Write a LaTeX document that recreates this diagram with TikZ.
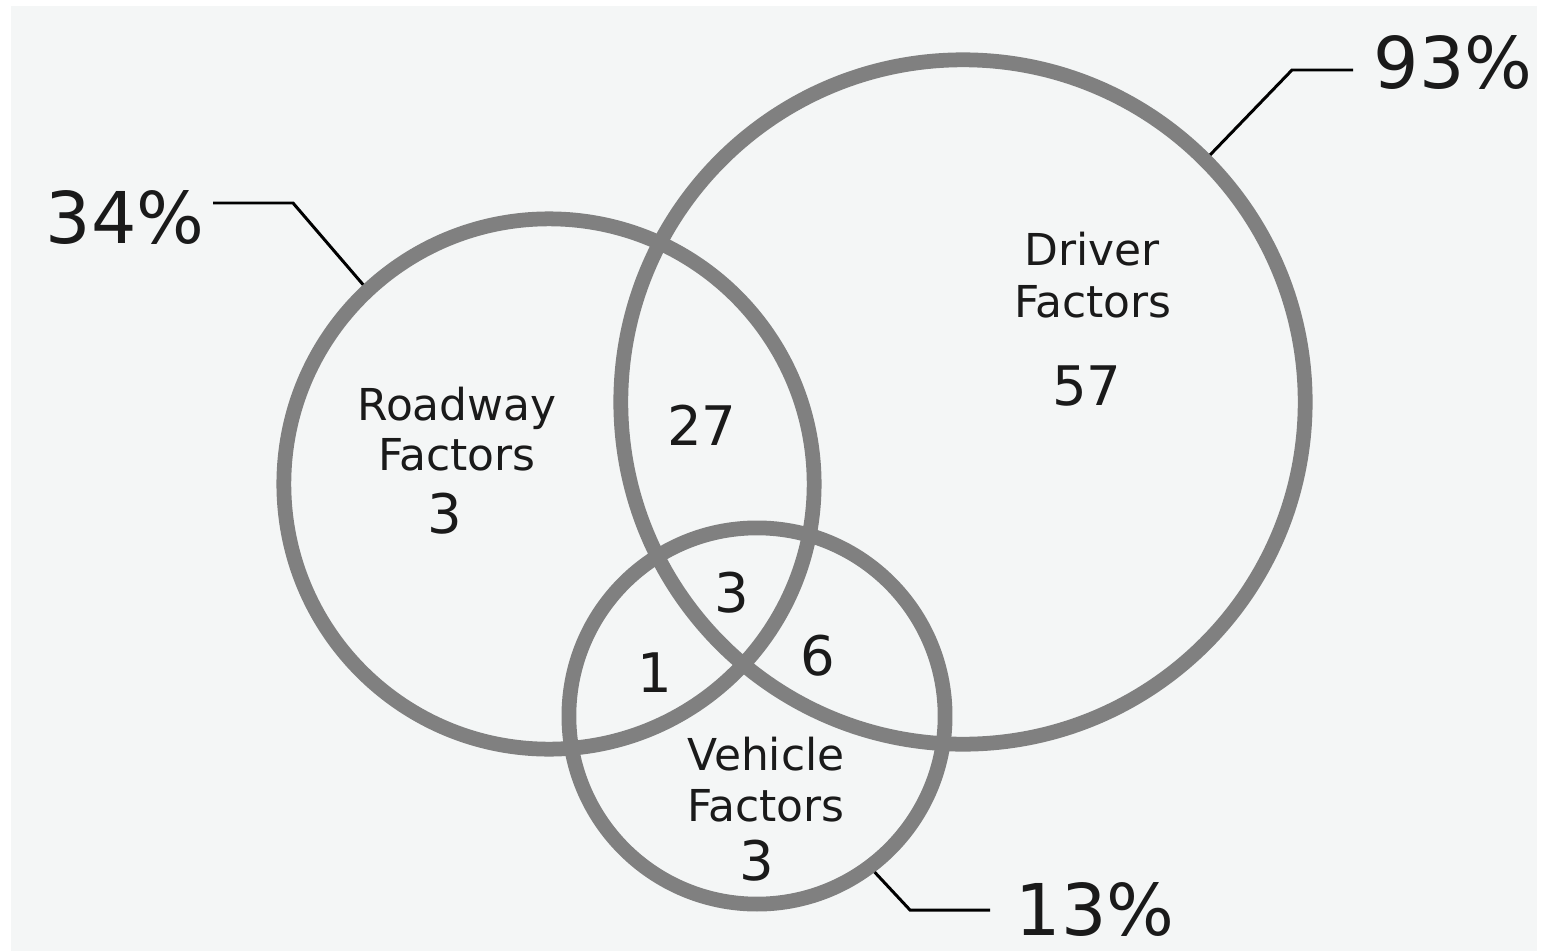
\documentclass[tikz,border=0pt]{standalone}
\usepackage{fontspec}
\setmainfont{DejaVu Sans}
\usepackage{tikz}
\usetikzlibrary{positioning}
\definecolor{ringgrey}{HTML}{808080}
\definecolor{paper}{HTML}{F4F6F6}
\definecolor{ink}{HTML}{1A1A1A}

\begin{document}
\begin{tikzpicture}[x=0.01cm,y=-0.01cm]
\tikzstyle{every node}+=[inner sep=0pt, text=ink]
\tikzstyle{ring}=[circle, draw=ringgrey, line width=4.2pt]
\tikzstyle{lbl}=[anchor=base, font=\fontsize{12.5}{15}\selectfont]
\tikzstyle{num}=[anchor=base, font=\fontsize{15.5}{18}\selectfont]
\tikzstyle{pct}=[anchor=base, font=\fontsize{20.3}{24}\selectfont]
\tikzstyle{leader}=[draw=black, line width=0.85pt]
\useasboundingbox (0,0) rectangle (1541,951);
\fill [white] (0,0) rectangle (1541,951);
\fill [paper] (11,6) rectangle (1537,951);
% the three sets
\node [ring, minimum size=5.30cm] (roadway) at (549,484) {};
\node [ring, minimum size=6.84cm] (driver) at (963,402) {};
\node [ring, minimum size=3.76cm] (vehicle) at (757,716) {};
% set names and counts
\node [lbl] (roadwayA) at (457,420) {Roadway};
\node [lbl] (roadwayB) at (457,470) {Factors};
\node [num] (roadwayN) at (445,533) {3};
\node [lbl] (driverA) at (1092,265) {Driver};
\node [lbl] (driverB) at (1093,317) {Factors};
\node [num] (driverN) at (1087,405) {57};
\node [lbl] (vehicleA) at (766,770) {Vehicle};
\node [lbl] (vehicleB) at (766,821) {Factors};
\node [num] (vehicleN) at (757,880) {3};
\node [num] (rd) at (702,445) {27};
\node [num] (rdv) at (732,612) {3};
\node [num] (rv) at (655,692) {1};
\node [num] (dv) at (818,675) {6};
% percentages
\node [pct, anchor=base east] (roadwayP) at (205,243) {34\%};
\node [pct, anchor=base west] (driverP) at (1373,88) {93\%};
\node [pct, anchor=base west] (vehicleP) at (1015,935) {13\%};
\coordinate (roadwayK) at (293,203);
\coordinate (roadwayE) at (213,203);
\coordinate (driverK) at (1292,70);
\coordinate (driverE) at (1353,70);
\coordinate (vehicleK) at (910,910);
\coordinate (vehicleE) at (990,910);
\draw [leader] (roadway.133) -- (roadwayK) -- (roadwayE);
\draw [leader] (driver.45) -- (driverK) -- (driverE);
\draw [leader] (vehicle.-53) -- (vehicleK) -- (vehicleE);
\end{tikzpicture}
\end{document}
